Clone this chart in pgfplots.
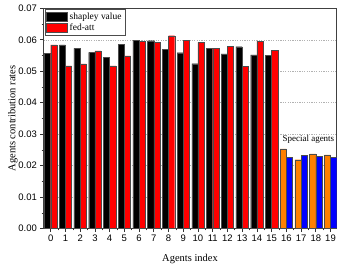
\documentclass[border=0pt]{standalone}
\usepackage{fontspec}
\setmainfont{Liberation Serif}
\setsansfont{Liberation Sans}
\usepackage{pgfplots}
\pgfplotsset{compat=1.18}
\definecolor{myorange}{HTML}{FF8000}
\definecolor{myblue}{HTML}{0000FF}
\definecolor{myred}{HTML}{FF0000}
\begin{document}
\begin{tikzpicture}
\begin{axis}[
  scale only axis,
  width=293bp, height=220bp,
  ybar, bar width=0.42,
  xmin=-0.5, xmax=19.42,
  ymin=0, ymax=0.07,
  xtick={0,...,19},
  minor x tick num=1,
  ytick={0,0.01,...,0.07},
  minor y tick num=1,
  tick align=outside,
  xtick pos=bottom, ytick pos=left,
  major tick length=3bp, minor tick length=1.8bp,
  axis line style={black!75, line width=0.7pt},
  tick style={black!80, line width=0.6pt},
  ymajorgrids,
  grid style={gray!60, dash pattern=on 1.2pt off 1.2pt, line width=0.5pt},
  /pgf/number format/assume math mode=true,
  ticklabel style={font=\sffamily\fontsize{9.5}{10}\selectfont},
  yticklabel style={/pgf/number format/fixed, /pgf/number format/fixed zerofill, /pgf/number format/precision=2},
  scaled y ticks=false,
  xlabel={Agents index},
  ylabel={Agents contribution rates},
  label style={font=\fontsize{10.5}{11}\selectfont},
  xlabel style={yshift=-6bp},
  ylabel style={yshift=-6bp},
  legend style={at={(0.004,0.996)}, anchor=north west, draw=black!70, line width=0.5pt,
    font=\fontsize{9.5}{10}\selectfont, inner sep=1.5pt, row sep=-1pt,
    cells={anchor=west}},
  legend image code/.code={\draw[#1, draw=black!70, line width=0.4pt] (-2bp,-4.5bp) rectangle (19bp,4.5bp);},
]
\addplot[fill=black, draw=black!70, line width=0.3pt, bar shift=-0.21] coordinates {
(0,0.0557) (1,0.0584) (2,0.0573) (3,0.0560) (4,0.0544) (5,0.0585) (6,0.0599) (7,0.0597)
(8,0.0569) (9,0.0559) (10,0.0524) (11,0.0572) (12,0.0555) (13,0.0578) (14,0.0552) (15,0.0551)};
\addlegendentry{shapley value}
\addplot[fill=myred, draw=black!70, line width=0.3pt, bar shift=0.21] coordinates {
(0,0.0584) (1,0.0517) (2,0.0523) (3,0.0565) (4,0.0517) (5,0.0549) (6,0.0596) (7,0.0592)
(8,0.0613) (9,0.0599) (10,0.0592) (11,0.0573) (12,0.0580) (13,0.0515) (14,0.0596) (15,0.0567)};
\addlegendentry{fed-att}
\addplot[fill=myorange, draw=black!70, line width=0.3pt, bar shift=-0.21, forget plot] coordinates {
(16,0.0253) (17,0.0219) (18,0.0237) (19,0.0234)};
\addplot[fill=myblue, draw=black!70, line width=0.3pt, bar shift=0.21, forget plot] coordinates {
(16,0.0226) (17,0.0232) (18,0.0230) (19,0.0227)};
\node[font=\fontsize{9}{10}\selectfont] at (axis cs:17.5,0.0282) {Special agents};
\end{axis}
\path (current axis.south west) ++(-43.3bp,-36bp);
\path (current axis.north east) ++(9.3bp,8.3bp);
\end{tikzpicture}
\end{document}
